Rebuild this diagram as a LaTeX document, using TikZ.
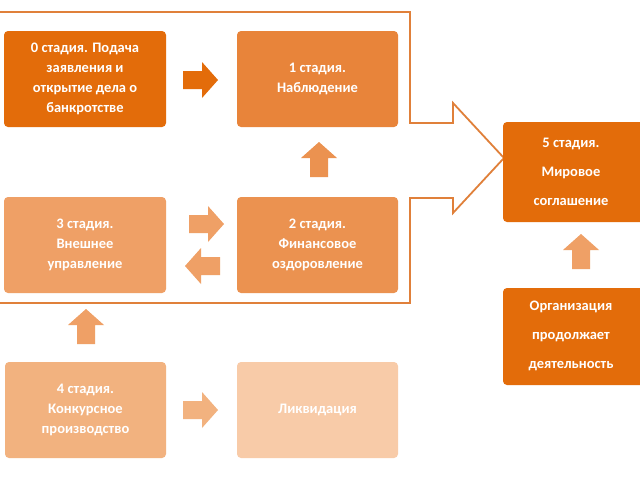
\documentclass[tikz,border=0pt]{standalone}
\usepackage{fontspec}
\setmainfont{Carlito}
\begin{document}
\begin{tikzpicture}[x=1pt,y=-1pt,
  box/.style={rounded corners=4pt, text=white, font=\bfseries\fontsize{14.5}{20}\selectfont, align=center, inner sep=0pt},
  barr/.pic={\fill[pic actions] (-17,-9) -- (2,-9) -- (2,-18) -- (18,0) -- (2,18) -- (2,9) -- (-17,9) -- cycle;}]
\definecolor{c0}{HTML}{E36C0A}
\definecolor{c1}{HTML}{E8843A}
\definecolor{c2}{HTML}{EB9250}
\definecolor{c3}{HTML}{EFA066}
\definecolor{c4}{HTML}{F2B27F}
\definecolor{c5}{HTML}{F8CBA8}
\definecolor{fr}{HTML}{E0803A}
\useasboundingbox (0,0) rectangle (640,480);
\fill[white] (0,0) rectangle (640,480);
% frame arrow
\draw[fr, line width=1.8pt, line join=miter] (0,12) -- (410,12) -- (410,123) -- (453,123) -- (453,103) -- (504,158) -- (453,213) -- (453,198) -- (410,198) -- (410,303) -- (0,303);
\path[box] 
 (4,31) rectangle node (s0) {0 стадия. Подача\\заявления и\\открытие дела о\\банкротстве} (166,127);
\fill[c0, rounded corners=4pt] (4,31) rectangle (166,127);
\node[box] (t0) at (85,79) {0 стадия. Подача\\заявления и\\открытие дела о\\банкротстве};
\fill[c1, rounded corners=4pt] (237,31) rectangle (398,127);
\node[box] (s1) at (317.5,79) {1 стадия.\\Наблюдение};
\fill[c3, rounded corners=4pt] (4,197) rectangle (166,293);
\node[box] (s3) at (85,245) {3 стадия.\\Внешнее\\управление};
\fill[c2, rounded corners=4pt] (237,197) rectangle (398,293);
\node[box] (s2) at (317.5,245) {2 стадия.\\Финансовое\\оздоровление};
\fill[c4, rounded corners=4pt] (5,362) rectangle (166,458);
\node[box] (s4) at (85.5,410) {4 стадия.\\Конкурсное\\производство};
\fill[c5, rounded corners=4pt] (237,362) rectangle (398,458);
\node[box] (lk) at (317.5,410) {Ликвидация};
\fill[c0, rounded corners=4pt] (503,122) rectangle (645,222);
\node[box, font=\bfseries\fontsize{14.5}{29}\selectfont] (s5) at (571,172) {5 стадия.\\Мировое\\соглашение};
\fill[c0, rounded corners=4pt] (503,288) rectangle (645,385);
\node[box, font=\bfseries\fontsize{14.5}{29}\selectfont] (org) at (571,336) {Организация\\продолжает\\деятельность};
% block arrows
\pic[fill=c0] at (200,80) {barr};
\pic[fill=c2, rotate=90] at (319,160) {barr};
\pic[fill=c3] at (206,224) {barr};
\pic[fill=c3, rotate=180] at (203,266) {barr};
\pic[fill=c3, rotate=90] at (86,327) {barr};
\pic[fill=c4] at (200,410) {barr};
\pic[fill=c3, rotate=90] at (581,252) {barr};
\end{tikzpicture}
\end{document}
